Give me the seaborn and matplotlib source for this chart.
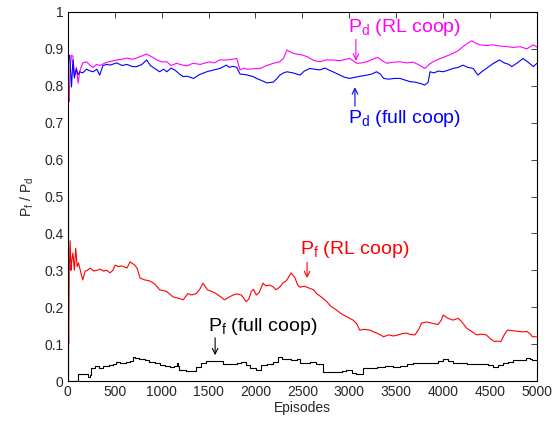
import matplotlib
matplotlib.use('Agg')
import matplotlib.pyplot as plt
import seaborn as sns
import numpy as np
import pandas as pd

#%% data (episode, value)

pd_full_ep = [1, 5, 10, 20, 40, 55, 70, 92, 110, 128, 160, 200, 240, 270, 310, 340, 375, 420, 450, 520,
              580, 630, 690, 735, 790, 840, 880, 950, 980, 1020, 1055, 1100, 1140, 1190, 1230, 1270, 1340,
              1400, 1480, 1540, 1620, 1690, 1720, 1760, 1800, 1835, 1900, 1975, 2010, 2050, 2120, 2190,
              2230, 2260, 2300, 2335, 2400, 2475, 2520, 2580, 2630, 2685, 2740, 2790, 2850, 2900, 2950,
              3005, 3060, 3120, 3185, 3240, 3290, 3330, 3365, 3420, 3480, 3540, 3600, 3650, 3700, 3760,
              3805, 3840, 3860, 3900, 3950, 4000, 4050, 4105, 4160, 4210, 4260, 4320, 4370, 4420, 4460,
              4530, 4600, 4650, 4700, 4730, 4790, 4850, 4900, 4960, 5000]
pd_full = [1.0, 0.85, 0.88, 0.883, 0.797, 0.87, 0.821, 0.845, 0.83, 0.838, 0.835, 0.845, 0.84, 0.838,
           0.845, 0.829, 0.855, 0.858, 0.856, 0.862, 0.855, 0.858, 0.852, 0.852, 0.858, 0.87, 0.855,
           0.843, 0.838, 0.845, 0.838, 0.848, 0.843, 0.832, 0.825, 0.826, 0.82, 0.83, 0.838, 0.842,
           0.847, 0.856, 0.85, 0.853, 0.85, 0.832, 0.83, 0.825, 0.82, 0.816, 0.808, 0.81, 0.82, 0.829,
           0.835, 0.838, 0.835, 0.829, 0.84, 0.847, 0.845, 0.843, 0.848, 0.842, 0.835, 0.829, 0.823,
           0.82, 0.823, 0.826, 0.829, 0.832, 0.838, 0.832, 0.82, 0.818, 0.82, 0.82, 0.815, 0.811, 0.81,
           0.806, 0.802, 0.81, 0.838, 0.835, 0.84, 0.838, 0.842, 0.847, 0.85, 0.856, 0.85, 0.847, 0.829,
           0.84, 0.847, 0.86, 0.87, 0.862, 0.858, 0.852, 0.862, 0.874, 0.865, 0.852, 0.861]

pd_rl_ep = [1, 3, 8, 15, 25, 40, 55, 70, 92, 110, 128, 160, 200, 240, 270, 310, 340, 400, 450, 520, 580,
            630, 700, 770, 840, 900, 950, 1000, 1055, 1100, 1160, 1210, 1270, 1335, 1410, 1510, 1560, 1620,
            1690, 1750, 1800, 1835, 1880, 1910, 1980, 2050, 2120, 2190, 2260, 2300, 2335, 2370, 2400, 2460,
            2505, 2560, 2580, 2630, 2685, 2750, 2825, 2900, 2960, 3005, 3040, 3080, 3130, 3185, 3250, 3305,
            3350, 3400, 3470, 3540, 3610, 3680, 3740, 3805, 3850, 3890, 3950, 4000, 4050, 4105, 4160, 4210,
            4260, 4305, 4350, 4390, 4460, 4530, 4600, 4680, 4750, 4820, 4890, 4960, 5000]
pd_rl = [0.5, 1.0, 0.76, 0.757, 0.85, 0.883, 0.88, 0.83, 0.85, 0.807, 0.84, 0.862, 0.865, 0.855, 0.85,
         0.858, 0.855, 0.862, 0.866, 0.87, 0.872, 0.875, 0.872, 0.879, 0.886, 0.878, 0.87, 0.865, 0.865,
         0.855, 0.861, 0.857, 0.854, 0.861, 0.858, 0.865, 0.862, 0.87, 0.87, 0.872, 0.874, 0.843, 0.848,
         0.845, 0.846, 0.847, 0.855, 0.861, 0.865, 0.875, 0.897, 0.892, 0.888, 0.885, 0.883, 0.878, 0.874,
         0.868, 0.865, 0.87, 0.87, 0.868, 0.872, 0.874, 0.868, 0.861, 0.862, 0.865, 0.872, 0.877, 0.868,
         0.861, 0.864, 0.865, 0.862, 0.864, 0.857, 0.847, 0.858, 0.865, 0.872, 0.877, 0.882, 0.888, 0.895,
         0.906, 0.915, 0.922, 0.915, 0.911, 0.909, 0.911, 0.908, 0.906, 0.904, 0.906, 0.9, 0.911, 0.905]

pf_rl_ep = [1, 5, 10, 15, 25, 35, 40, 55, 70, 85, 100, 115, 140, 160, 185, 210, 240, 275, 310, 345, 380,
            415, 450, 480, 505, 540, 575, 610, 630, 665, 690, 715, 740, 770, 800, 820, 860, 890, 930, 980,
            1020, 1050, 1090, 1120, 1170, 1230, 1280, 1320, 1370, 1410, 1440, 1490, 1530, 1580, 1630, 1670,
            1710, 1760, 1800, 1850, 1900, 1930, 1955, 1980, 2010, 2040, 2080, 2110, 2150, 2190, 2220, 2260,
            2290, 2330, 2380, 2420, 2450, 2475, 2520, 2580, 2620, 2650, 2700, 2760, 2800, 2865, 2900, 2935,
            2990, 3040, 3080, 3110, 3160, 3220, 3260, 3290, 3330, 3365, 3420, 3470, 3505, 3560, 3610, 3650,
            3700, 3740, 3770, 3820, 3875, 3945, 3980, 4000, 4050, 4105, 4160, 4200, 4250, 4300, 4355, 4400,
            4460, 4500, 4545, 4580, 4615, 4650, 4685, 4750, 4810, 4850, 4895, 4930, 4950, 5000]
pf_rl = [0.0, 0.17, 0.1, 0.29, 0.38, 0.30, 0.32, 0.347, 0.30, 0.36, 0.31, 0.32, 0.293, 0.274, 0.298, 0.30,
         0.306, 0.298, 0.30, 0.303, 0.298, 0.30, 0.293, 0.30, 0.314, 0.31, 0.312, 0.308, 0.306, 0.323,
         0.318, 0.314, 0.305, 0.279, 0.276, 0.274, 0.272, 0.269, 0.262, 0.247, 0.245, 0.243, 0.235, 0.228,
         0.225, 0.22, 0.237, 0.233, 0.237, 0.25, 0.265, 0.247, 0.243, 0.237, 0.228, 0.22, 0.226, 0.233,
         0.236, 0.233, 0.215, 0.222, 0.243, 0.248, 0.233, 0.24, 0.265, 0.258, 0.26, 0.255, 0.247, 0.255,
         0.265, 0.272, 0.293, 0.28, 0.26, 0.254, 0.257, 0.251, 0.247, 0.237, 0.228, 0.215, 0.203, 0.192,
         0.185, 0.179, 0.172, 0.165, 0.155, 0.138, 0.14, 0.138, 0.133, 0.13, 0.125, 0.12, 0.125, 0.122,
         0.124, 0.128, 0.13, 0.126, 0.125, 0.14, 0.157, 0.16, 0.157, 0.153, 0.165, 0.179, 0.17, 0.165,
         0.17, 0.16, 0.143, 0.135, 0.125, 0.127, 0.125, 0.115, 0.107, 0.108, 0.107, 0.125, 0.138, 0.136,
         0.134, 0.133, 0.134, 0.127, 0.12, 0.12]

pf_full_ep = [1, 3, 105, 110, 200, 215, 240, 250, 290, 330, 380, 440, 480, 510, 560, 620, 660, 690, 720,
              760, 820, 870, 930, 980, 1040, 1085, 1130, 1160, 1175, 1190, 1260, 1330, 1370, 1420, 1475,
              1550, 1615, 1650, 1700, 1760, 1800, 1850, 1900, 1940, 2010, 2060, 2120, 2190, 2240, 2280,
              2330, 2380, 2440, 2475, 2510, 2580, 2640, 2720, 2790, 2860, 2920, 2965, 3030, 3075, 3110,
              3145, 3200, 3290, 3380, 3470, 3540, 3610, 3680, 3750, 3820, 3890, 3950, 4000, 4050, 4105,
              4180, 4250, 4330, 4425, 4480, 4530, 4580, 4635, 4690, 4745, 4800, 4880, 4920, 4950, 5000]
pf_full = [0.5, 0.0, 0.0, 0.018, 0.018, 0.012, 0.015, 0.035, 0.04, 0.035, 0.04, 0.043, 0.045, 0.052,
           0.05, 0.052, 0.055, 0.065, 0.062, 0.06, 0.057, 0.052, 0.048, 0.043, 0.04, 0.039, 0.04, 0.048,
           0.042, 0.03, 0.026, 0.026, 0.039, 0.048, 0.055, 0.055, 0.055, 0.046, 0.046, 0.046, 0.048,
           0.052, 0.043, 0.035, 0.029, 0.043, 0.045, 0.052, 0.065, 0.06, 0.06, 0.058, 0.06, 0.048, 0.05,
           0.052, 0.045, 0.025, 0.025, 0.025, 0.028, 0.03, 0.022, 0.019, 0.02, 0.035, 0.036, 0.039, 0.04,
           0.039, 0.042, 0.046, 0.048, 0.05, 0.05, 0.049, 0.053, 0.06, 0.055, 0.05, 0.05, 0.046, 0.046,
           0.046, 0.043, 0.039, 0.043, 0.05, 0.052, 0.057, 0.058, 0.063, 0.06, 0.057, 0.058]

x_ticks = [0, 500, 1000, 1500, 2000, 2500, 3000, 3500, 4000, 4500, 5000]
y_ticks = [0, 0.1, 0.2, 0.3, 0.4, 0.5, 0.6, 0.7, 0.8, 0.9, 1]
y_tick_labels = ['0', '0.1', '0.2', '0.3', '0.4', '0.5', '0.6', '0.7', '0.8', '0.9', '1']

#%% plot

sns.set_style('white', {'xtick.direction': 'in', 'ytick.direction': 'in'})
plt.rcParams['font.family'] = ['Liberation Sans', 'DejaVu Sans']
plt.rcParams['mathtext.fontset'] = 'custom'
plt.rcParams['mathtext.rm'] = 'Liberation Sans'
plt.rcParams['mathtext.it'] = 'Liberation Sans'

fig = plt.figure(figsize=(5.6, 4.24), dpi=100)
ax = fig.add_axes([0.121, 0.1014, 0.838, 0.8703])

sns.lineplot(x=pf_full_ep, y=pf_full, color='black', lw=0.8, drawstyle='steps-post', ax=ax)
sns.lineplot(x=pf_rl_ep, y=pf_rl, color='#ff0000', lw=0.8, ax=ax)
sns.lineplot(x=pd_rl_ep, y=pd_rl, color='#ff00ff', lw=0.8, ax=ax)
sns.lineplot(x=pd_full_ep, y=pd_full, color='#0000ff', lw=0.8, ax=ax)

ax.set_xlim(0, 5000)
ax.set_ylim(0, 1)
ax.set_xticks(x_ticks)
ax.set_yticks(y_ticks)
ax.set_yticklabels(y_tick_labels)
ax.tick_params(top=True, right=True, length=4, width=0.6, labelsize=10, pad=3)
for s in ax.spines.values():
    s.set_linewidth(0.8)
    s.set_color('black')

ax.set_xlabel('Episodes', fontsize=10, labelpad=1)
ax.set_ylabel(r'$\mathregular{P_f\ /\ P_d}$', fontsize=10, labelpad=6)

# labels with arrows
fs = 14
arr = dict(arrowstyle='->', lw=0.8, shrinkA=0, shrinkB=0)
ax.text(2985, 0.946, r'$\mathregular{P_d}$ (RL coop)', color='#ff00ff', fontsize=fs)
ax.annotate('', xy=(3070, 0.868), xytext=(3070, 0.926), arrowprops=dict(arr, color='#ff00ff'))

ax.text(2985, 0.700, r'$\mathregular{P_d}$ (full coop)', color='#0000ff', fontsize=fs)
ax.annotate('', xy=(3060, 0.796), xytext=(3060, 0.745), arrowprops=dict(arr, color='#0000ff'))

ax.text(2475, 0.344, r'$\mathregular{P_f}$ (RL coop)', color='#ff0000', fontsize=fs)
ax.annotate('', xy=(2550, 0.279), xytext=(2550, 0.322), arrowprops=dict(arr, color='#ff0000'))

ax.text(1490, 0.135, r'$\mathregular{P_f}$ (full coop)', color='black', fontsize=fs)
ax.annotate('', xy=(1570, 0.07), xytext=(1570, 0.117), arrowprops=dict(arr, color='black'))

plt.savefig('out.png', dpi=100)
